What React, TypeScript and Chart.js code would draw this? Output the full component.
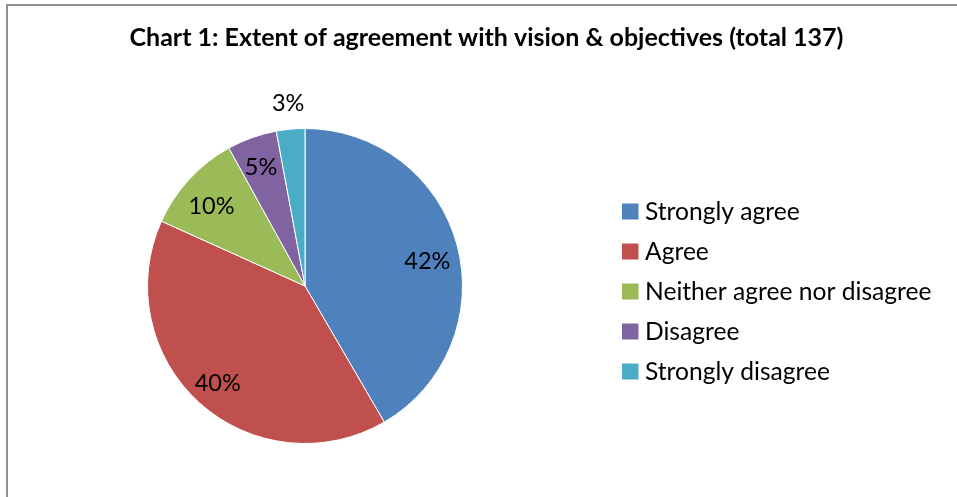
import React, { useEffect, useRef } from "react";
import { Chart, registerables } from "chart.js";

Chart.register(...registerables);

const TITLE = "Chart 1: Extent of agreement with vision & objectives (total 137)";
const CATEGORIES = [
  "Strongly agree",
  "Agree",
  "Neither agree nor disagree",
  "Disagree",
  "Strongly disagree",
];
const COUNTS = [57, 55, 14, 7, 4];
const COLORS = ["#4F81BD", "#C0504D", "#9BBB59", "#8064A2", "#4BACC6"];
// label placement (fraction of radius, fraction across the slice's angle)
const LABEL_RADIUS = [0.793, 0.827, 0.781, 0.806, 1.166];
const LABEL_ANGLE = [0.523, 0.5, 0.44, 0.47, 0.5];

const FONT = "Lato, 'Open Sans', sans-serif";

const overlayPlugin = {
  id: "overlay",
  afterDraw(chart: any) {
    const ctx = chart.ctx as CanvasRenderingContext2D;
    const meta = chart.getDatasetMeta(0);
    const total = COUNTS.reduce((a, b) => a + b, 0);
    ctx.save();
    // slice labels
    ctx.font = `23.5px ${FONT}`;
    ctx.fillStyle = "#000";
    ctx.textAlign = "center";
    ctx.textBaseline = "alphabetic";
    meta.data.forEach((arc: any, i: number) => {
      const p = arc.getProps(["x", "y", "startAngle", "endAngle", "outerRadius"], true);
      const a = p.startAngle + (p.endAngle - p.startAngle) * LABEL_ANGLE[i];
      const r = p.outerRadius * LABEL_RADIUS[i];
      const txt = Math.round((COUNTS[i] / total) * 100) + "%";
      ctx.fillText(txt, p.x + Math.cos(a) * r, p.y + Math.sin(a) * r + 8);
    });
    // title
    ctx.font = `bold 25px ${FONT}`;
    ctx.textAlign = "center";
    ctx.fillText(TITLE, 486.5, 46);
    // legend
    ctx.font = `24.6px ${FONT}`;
    ctx.textAlign = "left";
    CATEGORIES.forEach((c, i) => {
      const y = 203.5 + i * 40;
      ctx.fillStyle = COLORS[i];
      ctx.fillRect(622, y, 16.5, 16);
      ctx.fillStyle = "#000";
      ctx.fillText(c, 645, y + 16);
    });
    ctx.restore();
  },
};

export default function App() {
  const ref = useRef<HTMLCanvasElement>(null);
  useEffect(() => {
    if (!ref.current) return;
    const chart = new Chart(ref.current, {
      type: "pie",
      data: {
        labels: CATEGORIES,
        datasets: [
          {
            data: COUNTS,
            backgroundColor: COLORS,
            borderColor: "#ffffff",
            borderWidth: 1,
          },
        ],
      },
      options: {
        responsive: false,
        animation: false,
        layout: { padding: { left: 147, top: 128, right: 494, bottom: 53 } },
        plugins: {
          legend: { display: false },
          title: { display: false },
          tooltip: { enabled: false },
        },
      },
      plugins: [overlayPlugin],
    });
    return () => chart.destroy();
  }, []);
  return (
    <div style={{ position: "fixed", left: 0, top: 0, width: 957, height: 497, background: "#fff", overflow: "hidden" }}>
      <canvas ref={ref} width={957} height={497} style={{ position: "absolute", left: 0, top: 0 }} />
      <div
        style={{
          position: "absolute",
          left: 6,
          top: 4,
          width: 2000,
          height: 2000,
          borderLeft: "2px solid #8e8e8e",
          borderTop: "2px solid #8e8e8e",
          pointerEvents: "none",
        }}
      />
    </div>
  );
}
